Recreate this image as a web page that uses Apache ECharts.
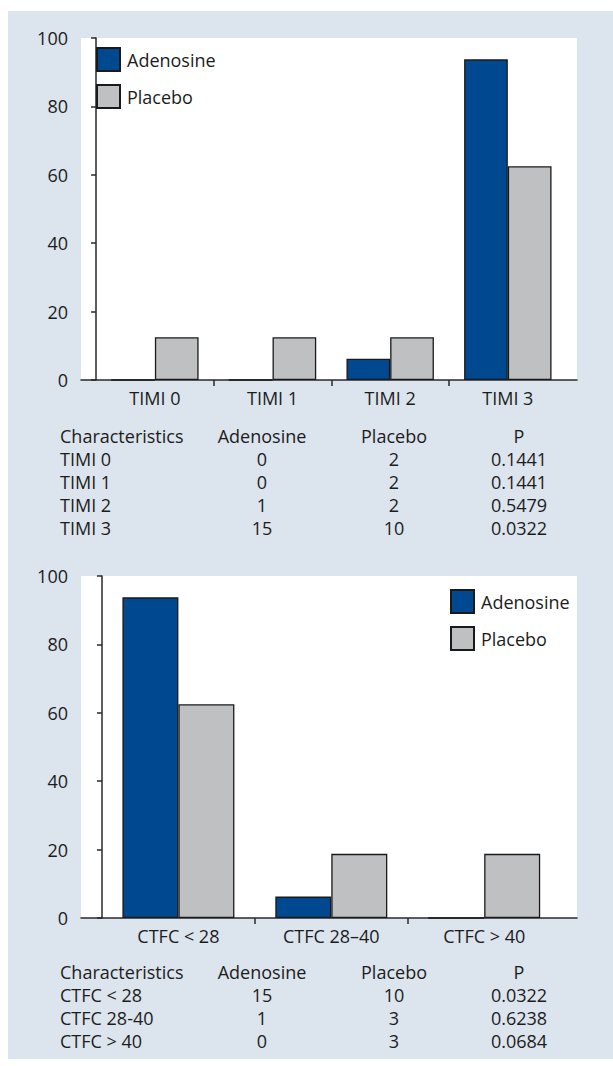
<!DOCTYPE html>
<html>
<head>
<meta charset="utf-8">
<script src="https://cdn.jsdelivr.net/npm/echarts@6/dist/echarts.min.js"></script>
<style>
html,body{margin:0;padding:0;background:#fff;}
#chart{width:613px;height:1066px;}
</style>
</head>
<body>
<div id="chart"></div>
<script>
// ---- data ----
const seriesNames = ['Adenosine', 'Placebo'];
const timiCategories = ['TIMI 0', 'TIMI 1', 'TIMI 2', 'TIMI 3'];
const timiAdenosine = [0, 0, 6.25, 93.75];
const timiPlacebo = [12.5, 12.5, 12.5, 62.5];
const ctfcCategories = ['CTFC < 28', 'CTFC 28–40', 'CTFC > 40'];
const ctfcAdenosine = [93.75, 6.25, 0];
const ctfcPlacebo = [62.5, 18.75, 18.75];
const yMin = 0, yMax = 100, yStep = 20;
const tableHeader = ['Characteristics', 'Adenosine', 'Placebo', 'P'];
const timiTable = [
  ['TIMI 0', '0', '2', '0.1441'],
  ['TIMI 1', '0', '2', '0.1441'],
  ['TIMI 2', '1', '2', '0.5479'],
  ['TIMI 3', '15', '10', '0.0322']
];
const ctfcTable = [
  ['CTFC < 28', '15', '10', '0.0322'],
  ['CTFC 28-40', '1', '3', '0.6238'],
  ['CTFC > 40', '0', '3', '0.0684']
];

// ---- style ----
const FONT = 'Open Sans';
const TXT = '#1c1c1c';
const BLUE = '#004990';
const GREY = '#bfc0c2';
const PANEL = '#dce4ed';
const AX = '#2a2a2a';
const FS = 18;

const chart = echarts.init(document.getElementById('chart'), null, {renderer: 'svg'});

function xAxisFor(grid, cats, minV, maxV) {
  const centers = cats.map((c, i) => i + 0.5);
  const bounds = cats.slice(1).map((c, i) => i + 1);
  return {
    type: 'value', gridIndex: grid, min: minV, max: maxV,
    axisLine: {show: true, onZero: false, lineStyle: {color: AX, width: 1.5}},
    axisTick: {show: true, customValues: bounds, length: 6, lineStyle: {color: AX, width: 1.5}},
    axisLabel: {show: true, customValues: centers, margin: 9, color: TXT, fontFamily: FONT, fontSize: FS,
      formatter: v => cats[Math.round(v - 0.5)]},
    splitLine: {show: false}
  };
}
function yAxisFor(grid) {
  return {
    type: 'value', gridIndex: grid, min: yMin, max: yMax, interval: yStep,
    axisLine: {show: true, lineStyle: {color: AX, width: 1.5}},
    axisTick: {show: true, length: 5, lineStyle: {color: AX, width: 1.5}},
    axisLabel: {color: TXT, fontFamily: FONT, fontSize: FS, margin: 13},
    splitLine: {show: false}
  };
}
function barSeries(name, vals, color, axisIdx, width) {
  return {
    name: name, type: 'bar', xAxisIndex: axisIdx, yAxisIndex: axisIdx,
    data: vals.map((v, i) => [i + 0.5, v]),
    barWidth: width, barGap: '0%',
    itemStyle: {color: color, borderColor: '#1a1a1a', borderWidth: 1.3},
    emphasis: {disabled: true}
  };
}
function tableGraphics(rows, top) {
  const els = [];
  const colX = [60, 262, 394, 519];
  const align = ['left', 'center', 'center', 'center'];
  const all = [tableHeader].concat(rows);
  all.forEach((r, ri) => {
    r.forEach((t, ci) => {
      els.push({type: 'text', x: colX[ci], y: top + ri * 23,
        style: {text: t, fill: TXT, font: FS + 'px "' + FONT + '"', textAlign: align[ci], textVerticalAlign: 'middle'}});
    });
  });
  return els;
}

const option = {
  animation: false,
  textStyle: {fontFamily: FONT},
  grid: [
    {left: 81, top: 38, width: 496, height: 342, show: true, backgroundColor: '#fff', borderWidth: 0},
    {left: 81, top: 576, width: 496, height: 342, show: true, backgroundColor: '#fff', borderWidth: 0}
  ],
  xAxis: [
    xAxisFor(0, timiCategories, -0.128, 4.088),
    xAxisFor(1, ctfcCategories, -0.137, 3.107)
  ],
  yAxis: [yAxisFor(0), yAxisFor(1)],
  legend: [
    {orient: 'vertical', left: 96, top: 47, padding: 0, itemWidth: 23, itemHeight: 23, itemGap: 12, icon: 'rect',
      data: seriesNames, selectedMode: false,
      textStyle: {color: TXT, fontFamily: FONT, fontSize: FS, padding: [0, 0, 0, 2]}},
    {orient: 'vertical', left: 450, top: 589, padding: 0, itemWidth: 23, itemHeight: 23, itemGap: 12, icon: 'rect',
      data: seriesNames, selectedMode: false,
      textStyle: {color: TXT, fontFamily: FONT, fontSize: FS, padding: [0, 0, 0, 2]}}
  ],
  series: [
    barSeries(seriesNames[0], timiAdenosine, BLUE, 0, 43.7),
    barSeries(seriesNames[1], timiPlacebo, GREY, 0, 43.7),
    barSeries(seriesNames[0], ctfcAdenosine, BLUE, 1, 56),
    barSeries(seriesNames[1], ctfcPlacebo, GREY, 1, 56)
  ],
  graphic: [
    {type: 'rect', z: -100, silent: true, shape: {x: 8, y: 11, width: 605, height: 1048}, style: {fill: PANEL}}
  ].concat(tableGraphics(timiTable, 436)).concat(tableGraphics(ctfcTable, 972))
};
chart.setOption(option);
</script>
</body>
</html>
